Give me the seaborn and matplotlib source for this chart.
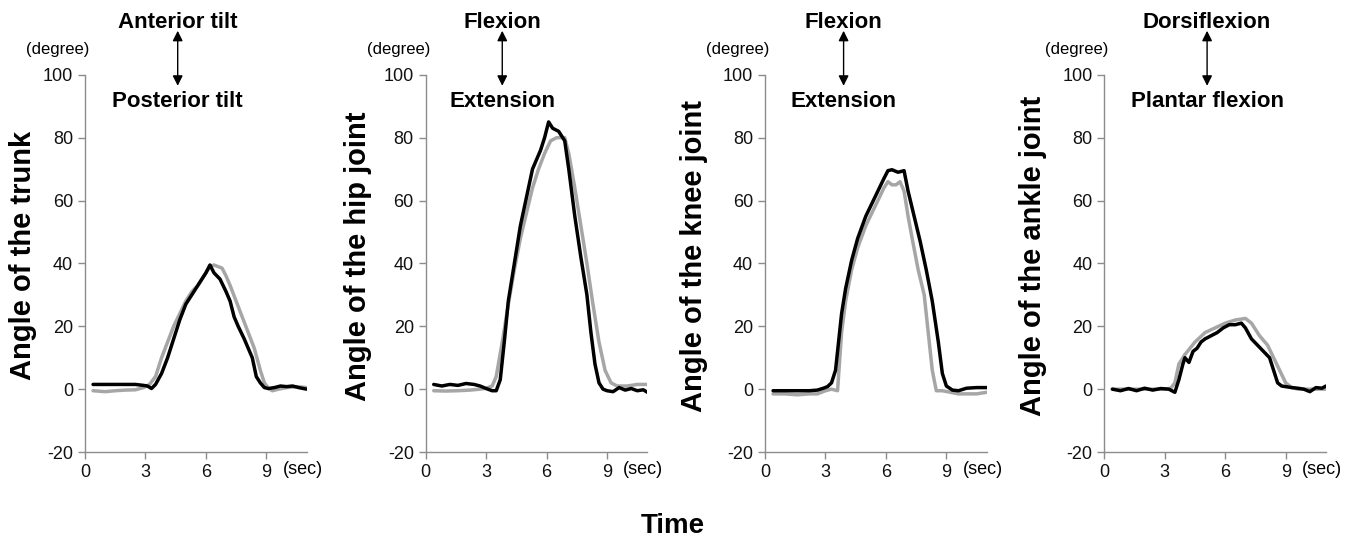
import matplotlib
matplotlib.use("Agg")
import matplotlib.pyplot as plt
import pandas as pd
import seaborn as sns

sns.set_style("ticks")
plt.rcParams['font.family'] = ['Liberation Sans', 'DejaVu Sans']
plt.rcParams['axes.unicode_minus'] = False
plt.rcParams['text.color'] = 'black'
plt.rcParams['axes.labelcolor'] = 'black'

# ---- data ----
trunk_t_black = [0.4, 1.0, 1.5, 2.0, 2.5, 2.9, 3.1, 3.3, 3.5, 3.8, 4.1, 4.4, 4.7, 5.0, 5.2, 5.5, 5.8, 6.0, 6.2,
                 6.4, 6.7, 7.0, 7.2, 7.4, 7.6, 7.9, 8.1, 8.3, 8.5, 8.7, 8.9, 9.1, 9.4, 9.7, 10.0, 10.3, 10.6, 11.0]
trunk_black = [1.5, 1.5, 1.5, 1.5, 1.5, 1.2, 1.0, 0.2, 1.5, 5, 10, 16, 22, 27, 29, 32, 35, 37, 39.5,
               37, 35, 31, 28, 23, 20, 16, 13, 10, 4, 2, 0.5, 0.2, 0.5, 1, 0.8, 1, 0.5, 0]
trunk_t_gray = [0.4, 1.0, 1.5, 2.0, 2.5, 2.9, 3.2, 3.5, 3.8, 4.1, 4.4, 4.7, 5.0, 5.3, 5.6, 5.9, 6.2, 6.4, 6.8,
                7.0, 7.2, 7.5, 7.8, 8.1, 8.4, 8.7, 8.9, 9.1, 9.3, 9.6, 10.0, 10.5, 11.0]
trunk_gray = [-0.5, -0.8, -0.5, -0.3, -0.2, 0.5, 1.5, 4, 10, 15, 20, 24, 28, 31, 33, 36, 39, 39.5, 38.5,
              36, 33, 28, 23, 18, 13, 6, 2, 0.3, -0.5, 0, 0.5, 0.8, 0.5]

hip_t_black = [0.4, 0.8, 1.2, 1.6, 2.0, 2.4, 2.7, 3.0, 3.3, 3.5, 3.7, 3.9, 4.1, 4.4, 4.7, 4.9, 5.1, 5.3, 5.5,
               5.7, 5.9, 6.1, 6.3, 6.6, 6.9, 7.1, 7.4, 7.7, 8.0, 8.2, 8.4, 8.6, 8.8, 9.0, 9.3, 9.6, 9.9,
               10.2, 10.5, 10.8, 11.0]
hip_black = [1.5, 1.0, 1.5, 1.2, 1.8, 1.5, 1.0, 0.2, -0.5, -0.5, 3, 15, 28, 40, 52, 58, 64, 70, 73,
             76, 80, 85, 83, 82, 79, 70, 55, 42, 30, 18, 8, 2, 0, -0.5, -0.8, 0.5, -0.3,
             0.2, -0.5, -0.2, -1]
hip_t_gray = [0.4, 1.0, 1.6, 2.2, 2.7, 3.0, 3.3, 3.5, 3.8, 4.1, 4.4, 4.7, 5.0, 5.3, 5.6, 5.9, 6.2, 6.5,
              6.9, 7.1, 7.4, 7.7, 8.0, 8.3, 8.6, 8.9, 9.2, 9.5, 10.0, 10.5, 11.0]
hip_gray = [-0.5, -0.6, -0.5, -0.3, 0, 0.3, 1, 4, 15, 27, 38, 48, 56, 64, 70, 75, 79, 80,
            80, 75, 64, 52, 40, 27, 15, 6, 2, 1, 1, 1.5, 1.5]

knee_t_black = [0.4, 1.0, 1.6, 2.2, 2.6, 2.9, 3.1, 3.3, 3.5, 3.6, 3.8, 4.0, 4.3, 4.6, 5.0, 5.3, 5.6, 5.9,
                6.1, 6.3, 6.6, 6.9, 7.1, 7.4, 7.7, 8.0, 8.3, 8.6, 8.8, 9.0, 9.3, 9.6, 10.0, 10.5, 11.0]
knee_black = [-0.5, -0.5, -0.5, -0.5, -0.3, 0.3, 0.8, 2, 6, 12, 24, 32, 41, 48, 55, 59, 63, 67,
              69.5, 69.8, 69, 69.5, 63, 55, 47, 38, 28, 15, 5, 1, -0.3, -0.5, 0.3, 0.5, 0.5]
knee_t_gray = [0.4, 1.0, 1.6, 2.2, 2.6, 3.0, 3.3, 3.6, 3.8, 4.0, 4.3, 4.6, 5.0, 5.3, 5.6, 5.9, 6.1, 6.3,
               6.5, 6.7, 6.9, 7.1, 7.3, 7.6, 7.9, 8.1, 8.3, 8.5, 8.8, 9.2, 9.6, 10.0, 10.5, 11.0]
knee_gray = [-1.5, -1.5, -1.8, -1.5, -1.5, -0.5, 0, -0.5, 18, 28, 38, 45, 52, 56, 60, 64, 66, 65,
             65, 66, 63, 55, 48, 38, 30, 18, 6, -0.5, -0.5, -1, -1.5, -1.5, -1.5, -1]

ankle_t_black = [0.4, 0.8, 1.2, 1.6, 2.0, 2.4, 2.8, 3.2, 3.5, 3.7, 3.9, 4.0, 4.2, 4.4, 4.6, 4.8, 5.0, 5.3,
                 5.6, 5.9, 6.2, 6.5, 6.8, 7.0, 7.3, 7.6, 7.9, 8.2, 8.4, 8.6, 8.8, 9.0, 9.3, 9.6, 9.9,
                 10.2, 10.5, 10.8, 11.0]
ankle_black = [0, -0.5, 0.2, -0.5, 0.3, -0.3, 0.2, 0, -1, 3, 8, 10, 8.5, 12, 13, 15, 16, 17,
               18, 19.5, 20.5, 20.5, 21, 19.5, 16, 14, 12, 10, 6, 2, 1, 0.8, 0.5, 0.3, 0,
               -0.8, 0.5, 0.3, 1]
ankle_t_gray = [0.4, 1.0, 2.0, 3.0, 3.3, 3.5, 3.7, 4.0, 4.5, 5.0, 5.5, 6.0, 6.5, 7.0, 7.3, 7.7, 8.1, 8.4,
                8.7, 9.0, 9.3, 9.6, 10.0, 10.5, 11.0]
ankle_gray = [0, 0, 0, 0, 0.3, 2, 8, 11, 15, 18, 19.5, 21, 22, 22.5, 21, 17, 14, 10,
              6, 2, 0.5, 0, 0, 0, 0]

ylabels = ["Angle of the trunk", "Angle of the hip joint", "Angle of the knee joint", "Angle of the ankle joint"]
top_labels = ["Anterior tilt", "Flexion", "Flexion", "Dorsiflexion"]
bottom_labels = ["Posterior tilt", "Extension", "Extension", "Plantar flexion"]
x_ticks = [0, 3, 6, 9]
y_ticks = [-20, 0, 20, 40, 60, 80, 100]

panels = [
    (trunk_t_black, trunk_black, trunk_t_gray, trunk_gray),
    (hip_t_black, hip_black, hip_t_gray, hip_gray),
    (knee_t_black, knee_black, knee_t_gray, knee_gray),
    (ankle_t_black, ankle_black, ankle_t_gray, ankle_gray),
]

# layout
lefts = [0.0625, 0.313, 0.5625, 0.812]
arrow_x = [4.6, 3.8, 3.9, 5.1]
label_x = [-0.216, -0.243, -0.257, -0.257]
axis_gray = "#8c8c8c"
line_gray = "#a6a6a6"

fig = plt.figure(figsize=(13.6, 5.42), dpi=100)

for i, (tb, vb, tg, vg) in enumerate(panels):
    ax = fig.add_axes([lefts[i], 0.166, 0.163, 0.696])
    df_b = pd.DataFrame({"t": tb, "v": vb})
    df_g = pd.DataFrame({"t": tg, "v": vg})
    sns.lineplot(data=df_g, x="t", y="v", ax=ax, color=line_gray, linewidth=2.5)
    sns.lineplot(data=df_b, x="t", y="v", ax=ax, color="black", linewidth=2.5)

    ax.set_xlim(0, 11)
    ax.set_ylim(-20, 100)
    ax.set_xticks(x_ticks)
    ax.set_yticks(y_ticks)
    ax.set_xlabel("")
    ax.set_ylabel(ylabels[i], fontsize=21, fontweight="bold")
    ax.yaxis.set_label_coords(label_x[i], 0.52)
    sns.despine(ax=ax)
    for s in ["left", "bottom"]:
        ax.spines[s].set_color(axis_gray)
        ax.spines[s].set_linewidth(1.0)
    ax.tick_params(axis="both", colors=axis_gray, labelcolor="#111111", labelsize=13,
                   length=5, width=1.0, direction="out")

    ax.text(-1.35, 108, "(degree)", ha="center", va="center", fontsize=12, clip_on=False)
    ax.text(10.8, -25.7, "(sec)", ha="center", va="center", fontsize=13, clip_on=False)

    xa = arrow_x[i]
    ax.annotate("", xy=(xa, 114), xytext=(xa, 96.5),
                arrowprops=dict(arrowstyle="<|-|>", color="black", lw=1.0,
                                mutation_scale=15, shrinkA=0, shrinkB=0),
                annotation_clip=False)
    ax.text(xa, 116.5, top_labels[i], ha="center", va="center", fontsize=16,
            fontweight="bold", clip_on=False)
    ax.text(xa, 91.5, bottom_labels[i], ha="center", va="center", fontsize=16,
            fontweight="bold", clip_on=False)

fig.text(0.495, 0.03, "Time", ha="center", va="center", fontsize=20, fontweight="bold")

fig.savefig("out.png", dpi=100)
